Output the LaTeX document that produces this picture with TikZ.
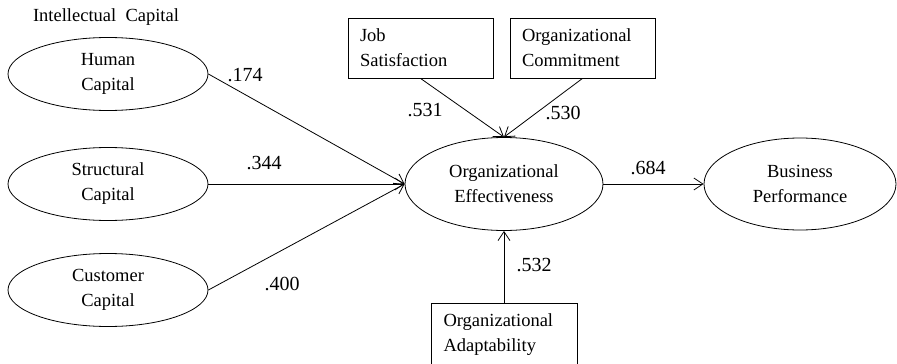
\documentclass[tikz,border=0pt]{standalone}
\usepackage{fontspec}
\setmainfont{Liberation Serif}
\usetikzlibrary{shapes.geometric,arrows.meta}
\begin{document}
\begin{tikzpicture}[x=1pt,y=-1pt,
  lat/.style={draw,ellipse,line width=0.8pt,minimum width=200pt,minimum height=73pt,inner sep=0pt,align=center,font=\fontsize{18.5}{25}\selectfont},
  obs/.style={draw,rectangle,line width=0.8pt,minimum width=145pt,minimum height=60pt,inner xsep=12pt,inner ysep=0pt,text width=121pt,align=left,font=\fontsize{18.5}{25}\selectfont},
  lbl/.style={font=\fontsize{20}{24}\selectfont,inner sep=0pt},
  conn/.style={line width=0.8pt,-{Straight Barb[length=9pt,width=12pt]}}]
\useasboundingbox (0,0) rectangle (897,364);
\node[font=\fontsize{18.5}{22}\selectfont] (ic) at (106,17) {Intellectual\ \ Capital};
\node[lat] (hc) at (108,74) {Human\\Capital};
\node[lat] (sc) at (108,184) {Structural\\Capital};
\node[lat] (cc) at (108,290) {Customer\\Capital};
\node[lat,minimum width=198pt,minimum height=93pt] (oe) at (504,184) {Organizational\\Effectiveness};
\node[lat,minimum width=192pt,minimum height=92pt] (bp) at (800,184) {Business\\Performance};
\node[obs] (js) at (420.5,48) {Job\\Satisfaction};
\node[obs] (oc) at (582.5,48) {Organizational\\Commitment};
\node[obs,minimum width=146pt,minimum height=63pt] (oa) at (504,334.5) {Organizational\\Adaptability};
\draw[conn] (hc.east) -- (oe.west);
\draw[conn] (sc.east) -- (oe.west);
\draw[conn] (cc.east) -- (oe.west);
\draw[conn] (js.south) -- (oe.north);
\draw[conn] (oc.south) -- (oe.north);
\draw[conn] (oa.north) -- (oe.south);
\draw[conn] (oe.east) -- (bp.west);
\node[lbl] (l1) at (245,75) {.174};
\node[lbl] (l2) at (264,163) {.344};
\node[lbl] (l3) at (282,284) {.400};
\node[lbl] (l4) at (425,110) {.531};
\node[lbl] (l5) at (563,113) {.530};
\node[lbl] (l6) at (534,265) {.532};
\node[lbl] (l7) at (648,168) {.684};
\end{tikzpicture}
\end{document}
